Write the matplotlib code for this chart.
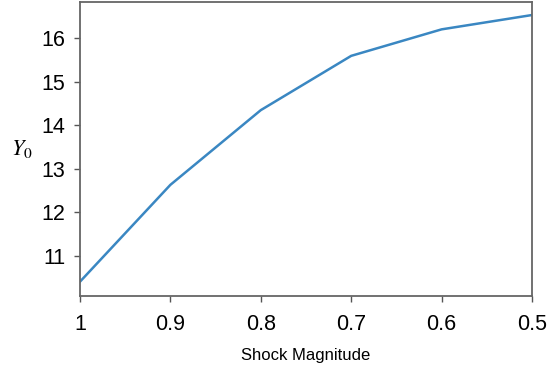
import numpy as np
import matplotlib
matplotlib.use('Agg')
import matplotlib.pyplot as plt

plt.rcParams['font.family'] = ['Liberation Sans', 'DejaVu Sans']
plt.rcParams['mathtext.fontset'] = 'stix'

shock = [1.0, 0.9, 0.8, 0.7, 0.6, 0.5]
y0 = [10.40, 12.63, 14.35, 15.60, 16.21, 16.54]
xtick_labels = ['1', '0.9', '0.8', '0.7', '0.6', '0.5']

fig = plt.figure(figsize=(5.47, 3.67), dpi=100)
ax = fig.add_axes([80 / 547, 1 - 296 / 367, 452 / 547, 294 / 367])

ax.plot(shock, y0, color='#3a87c2', linewidth=1.8)
ax.set_xlim(1.0, 0.5)
ax.set_ylim(10.07, 16.84)
ax.set_xticks(shock)
ax.set_xticklabels(xtick_labels)
ax.set_yticks([11, 12, 13, 14, 15, 16])

ax.tick_params(axis='both', labelsize=15.5, length=4.5, width=1, color='#555555')
ax.tick_params(axis='x', pad=8.5)
ax.tick_params(axis='y', pad=6)
for s in ax.spines.values():
    s.set_color('#666666')
    s.set_linewidth(1.3)

ax.set_xlabel('Shock Magnitude', fontsize=12, labelpad=9)
ax.set_ylabel('$Y_0$', fontsize=16, rotation=0, labelpad=14, va='center')

fig.savefig('out.png', dpi=100)
